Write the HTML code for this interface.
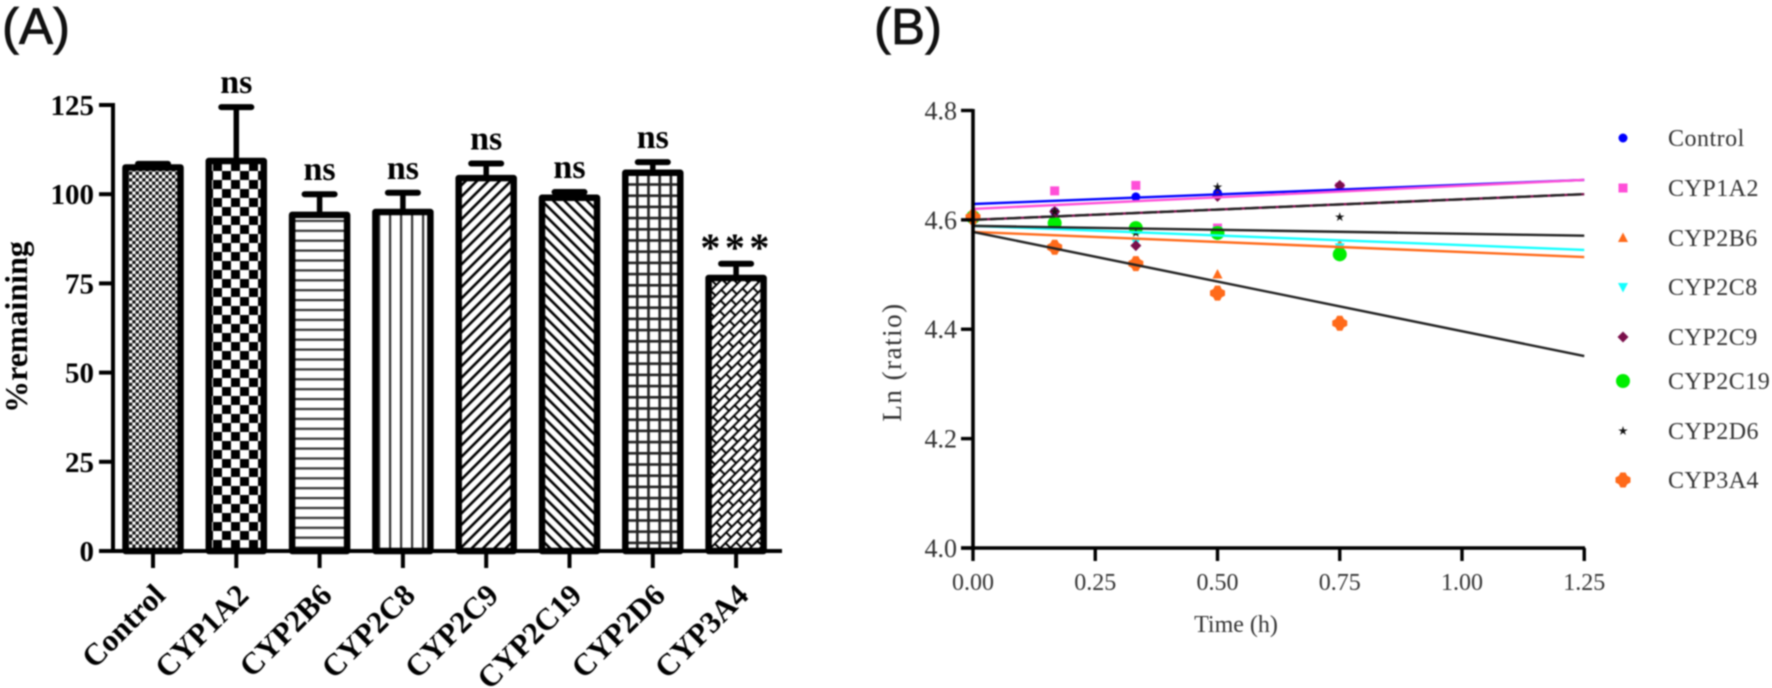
<!DOCTYPE html>
<html>
<head>
<meta charset="utf-8">
<style>
html,body{margin:0;padding:0;background:#fff;width:1772px;height:688px;overflow:hidden}
svg{display:block;filter:blur(0.7px)}
text{font-family:"Liberation Serif",serif}
</style>
</head>
<body>
<svg id="fig" xmlns="http://www.w3.org/2000/svg" width="1772" height="688" viewBox="0 0 1772 688">
<defs>
<pattern id="p0" width="6.6" height="6.6" patternUnits="userSpaceOnUse" x="129" y="0"><rect width="6.6" height="6.6" fill="#fff"/><rect width="3.3" height="3.3" fill="#111"/><rect x="3.3" y="3.3" width="3.3" height="3.3" fill="#111"/></pattern>
<pattern id="p1" width="18" height="18" patternUnits="userSpaceOnUse" x="213" y="0"><rect width="18" height="18" fill="#fff"/><rect width="9" height="9" fill="#000"/><rect x="9" y="9" width="9" height="9" fill="#000"/></pattern>
<pattern id="p2" width="10" height="9.9" patternUnits="userSpaceOnUse" y="2"><rect width="10" height="10" fill="#fff"/><rect width="10" height="2.2" fill="#333"/></pattern>
<pattern id="p3" width="11" height="10" patternUnits="userSpaceOnUse" x="301"><rect width="11" height="10" fill="#fff"/><rect width="2.2" height="10" fill="#333"/></pattern>
<pattern id="p4" width="8" height="8" patternUnits="userSpaceOnUse" patternTransform="rotate(45)"><rect width="8" height="8" fill="#fff"/><rect width="2.6" height="8" fill="#000"/></pattern>
<pattern id="p5" width="8" height="8" patternUnits="userSpaceOnUse" patternTransform="rotate(-45)"><rect width="8" height="8" fill="#fff"/><rect width="2.6" height="8" fill="#000"/></pattern>
<pattern id="p6" width="11.2" height="11.2" patternUnits="userSpaceOnUse" x="636" y="4"><rect width="11.2" height="11.2" fill="#fff"/><rect width="2.6" height="11.2" fill="#222"/><rect width="11.2" height="2.6" fill="#222"/></pattern>
<pattern id="p7" width="16" height="14" patternUnits="userSpaceOnUse" patternTransform="rotate(-45)"><rect width="16" height="14" fill="#fff"/><rect width="16" height="2" fill="#000"/><rect y="7" width="16" height="2" fill="#000"/><rect x="0" y="0" width="2" height="7" fill="#000"/><rect x="8" y="7" width="2" height="7" fill="#000"/></pattern>
</defs>
<text x="2" y="44" style="font-family:'Liberation Sans',sans-serif;font-size:51px" fill="#111" stroke="#111" stroke-width="0.8">(A)</text>
<text x="874" y="44" style="font-family:'Liberation Sans',sans-serif;font-size:51px" fill="#111" stroke="#111" stroke-width="0.8">(B)</text>
<g id="chartA"></g>
<g id="chartB"></g>
</svg>
<script>
// Panel A data
const barCategories = ["Control","CYP1A2","CYP2B6","CYP2C8","CYP2C9","CYP2C19","CYP2D6","CYP3A4"];
const barValues = [107.5,109.3,94.2,95,104.5,99,106,76.5];
const barErrors = [1,15.1,5.8,5.4,4.1,1.6,3,4];
const barSignificance = ["","ns","ns","ns","ns","ns","ns","***"];
const barTicks = [0,25,50,75,100,125];

// Panel B data
const timeHours = [0,0.167,0.333,0.5,0.75];
const seriesNames = ["Control","CYP1A2","CYP2B6","CYP2C8","CYP2C9","CYP2C19","CYP2D6","CYP3A4"];
const controlPoints = [4.605,4.615,4.642,4.649,4.66];
const cyp1a2Points  = [4.605,4.653,4.663,4.585,4.66];
const cyp2b6Points  = [4.605,4.55,4.52,4.50,4.555];
const cyp2c8Points  = [4.605,4.594,4.56,4.58,4.55];
const cyp2c9Points  = [4.605,4.615,4.553,4.643,4.663];
const cyp2c19Points = [4.605,4.594,4.585,4.576,4.537];
const cyp2d6Points  = [4.605,4.615,4.576,4.66,4.605];
const cyp3a4Points  = [4.605,4.55,4.52,4.466,4.411];
const fitStart = [4.629,4.62,4.578,4.589,4.6,4.589,4.6,4.578];
const fitEnd   = [4.673,4.673,4.532,4.545,4.647,4.571,4.647,4.351];
const fitColors = ["#0000ff","#ff4fd8","#ff6a1a","#14ffff","#7a0f4a","#222222","#222222","#222222"];
const markerColors = ["#0000ff","#ff4fd8","#ff6a1a","#14ffff","#7a0f4a","#00ee00","#111111","#ff6a1a"];
const markerShapes = ["circle","square","triangle","triangleDown","diamond","bigCircle","star","cross"];
const lnTicks = [4.0,4.2,4.4,4.6,4.8];
const timeTicks = [0,0.25,0.5,0.75,1,1.25];

const NS = "http://www.w3.org/2000/svg";
function el(parent, tag, attrs, text) {
  const e = document.createElementNS(NS, tag);
  for (const k in attrs) e.setAttribute(k, attrs[k]);
  if (text !== undefined) e.textContent = text;
  parent.appendChild(e);
  return e;
}

// Panel A
const A = document.getElementById("chartA");
const ya = v => 551 - v * 3.568;
const xa = i => 153 + i * 83.3;
barCategories.forEach((c, i) => {
  const top = ya(barValues[i]), cap = ya(barValues[i] + barErrors[i]);
  const stem = el(A, "line", {x1:xa(i),x2:xa(i),y1:top,y2:cap,stroke:"#000","stroke-width":5.5});
  
  
  const capLine = el(A, "line", {x1:xa(i)-15,x2:xa(i)+15,y1:cap,y2:cap,stroke:"#000","stroke-width":6,"stroke-linecap":"round"});
  
  
  const bar = el(A, "rect", {x:xa(i)-27.5,y:top,width:55,height:551-top,fill:"url(#p"+i+")",stroke:"#000","stroke-width":6.5,"stroke-linejoin":"round"});
  
  
  const tick = el(A, "line", {x1:xa(i),x2:xa(i),y1:551,y2:568,stroke:"#000","stroke-width":4});
  
  
  const lx = xa(i) + 14, ly = 597;
  const label = el(A, "text", {x:lx,y:ly,"text-anchor":"end",transform:"rotate(-45 "+lx+" "+ly+")","font-size":31,"font-weight":"bold",fill:"#000"}, c);
  
  
  const sig = barSignificance[i];
  if (sig === "ns") {
    const t = el(A, "text", {x:xa(i),y:cap-14,"text-anchor":"middle","font-size":34,"font-weight":"bold",fill:"#000"}, sig);
    
    
  } else if (sig) {
    const t = el(A, "text", {x:xa(i)+1,y:cap-3,"text-anchor":"middle","font-size":40,"font-weight":"bold","letter-spacing":"4.5",fill:"#000"}, sig);
    
    
  }
});
const axisAY = el(A, "line", {x1:113,x2:113,y1:103,y2:553,stroke:"#000","stroke-width":4});


const axisAX = el(A, "line", {x1:99,x2:782,y1:551,y2:551,stroke:"#000","stroke-width":4});


barTicks.forEach(v => {
  const tick = el(A, "line", {x1:99,x2:113,y1:ya(v),y2:ya(v),stroke:"#000","stroke-width":4});
  
  
  const t = el(A, "text", {x:94,y:ya(v)+10,"text-anchor":"end","font-size":29,"font-weight":"bold",fill:"#000"}, v);
  
  
});
const titleA = el(A, "text", {x:27,y:327,"text-anchor":"middle",transform:"rotate(-90 27 327)","font-size":32,"font-weight":"bold",fill:"#000"}, "%remaining");



// Panel B
const B = document.getElementById("chartB");
const xb = t => 973 + t * 489;
const yb = v => 548 - (v - 4) * 546.9;
function marker(parent, shape, cx, cy, color) {
  if (shape === "circle") return el(parent, "circle", {cx:cx,cy:cy,r:4.5,fill:color});
  if (shape === "bigCircle") return el(parent, "circle", {cx:cx,cy:cy,r:7,fill:color});
  if (shape === "square") return el(parent, "rect", {x:cx-4.5,y:cy-4.5,width:9,height:9,fill:color});
  let pts;
  if (shape === "triangle") pts = [[0,-5.5],[5,4],[-5,4]];
  if (shape === "triangleDown") pts = [[0,5.5],[5,-4],[-5,-4]];
  if (shape === "diamond") pts = [[0,-5.5],[5.5,0],[0,5.5],[-5.5,0]];
  if (shape === "star") {
    pts = [];
    for (let k = 0; k < 10; k++) {
      const r = k % 2 ? 1.8 : 5, a = -Math.PI / 2 + k * Math.PI / 5;
      pts.push([r * Math.cos(a), r * Math.sin(a)]);
    }
  }
  if (shape === "cross") pts = [[-2.5,-7.5],[2.5,-7.5],[4.2,-4.2],[7.5,-2.5],[7.5,2.5],[4.2,4.2],[2.5,7.5],[-2.5,7.5],[-4.2,4.2],[-7.5,2.5],[-7.5,-2.5],[-4.2,-4.2]];
  return el(parent, "polygon", {points:pts.map(p => (cx + p[0]) + "," + (cy + p[1])).join(" "),fill:color});
}
const allPoints = [controlPoints,cyp1a2Points,cyp2b6Points,cyp2c8Points,cyp2c9Points,cyp2c19Points,cyp2d6Points,cyp3a4Points];
seriesNames.forEach((s, i) => {
  allPoints[i].forEach((v, j) => {
    const m = marker(B, markerShapes[i], xb(timeHours[j]), yb(v), markerColors[i]);
    
    
  });
});
seriesNames.forEach((s, i) => {
  const fit = el(B, "line", {x1:xb(0),x2:xb(1.25),y1:yb(fitStart[i]),y2:yb(fitEnd[i]),stroke:fitColors[i],"stroke-width":2.4});
  if (i === 6) fit.setAttribute('stroke-dasharray', '14 3');
  
  
});
const axisBY = el(B, "line", {x1:973,x2:973,y1:109,y2:550,stroke:"#000","stroke-width":3.6});


const axisBX = el(B, "line", {x1:961,x2:1585,y1:548,y2:548,stroke:"#000","stroke-width":3.6});


lnTicks.forEach(v => {
  const tick = el(B, "line", {x1:961,x2:973,y1:yb(v),y2:yb(v),stroke:"#000","stroke-width":3.4});
  
  
  const t = el(B, "text", {x:957,y:yb(v)+9,"text-anchor":"end","font-size":26,fill:"#333"}, v.toFixed(1));
  
  
});
timeTicks.forEach(v => {
  const tick = el(B, "line", {x1:xb(v),x2:xb(v),y1:548,y2:561,stroke:"#000","stroke-width":3.4});
  
  
  const t = el(B, "text", {x:xb(v),y:590,"text-anchor":"middle","font-size":24,fill:"#333"}, v.toFixed(2));
  
  
});
const titleBY = el(B, "text", {x:901,y:362,"text-anchor":"middle",transform:"rotate(-90 901 362)","font-size":27,fill:"#333","letter-spacing":"1.5"}, "Ln (ratio)");


const titleBX = el(B, "text", {x:1236,y:632,"text-anchor":"middle","font-size":24,fill:"#333"}, "Time (h)");


const legendY = [138,188,238,287,337,381,431,480];
seriesNames.forEach((s, i) => {
  const g = el(B, "g", {});
  
  
  marker(g, markerShapes[i], 1623, legendY[i], markerColors[i]);
  el(g, "text", {x:1668,y:legendY[i]+8,"font-size":24,fill:"#333","letter-spacing":"0.5"}, s);
});
</script>
</body>
</html>
